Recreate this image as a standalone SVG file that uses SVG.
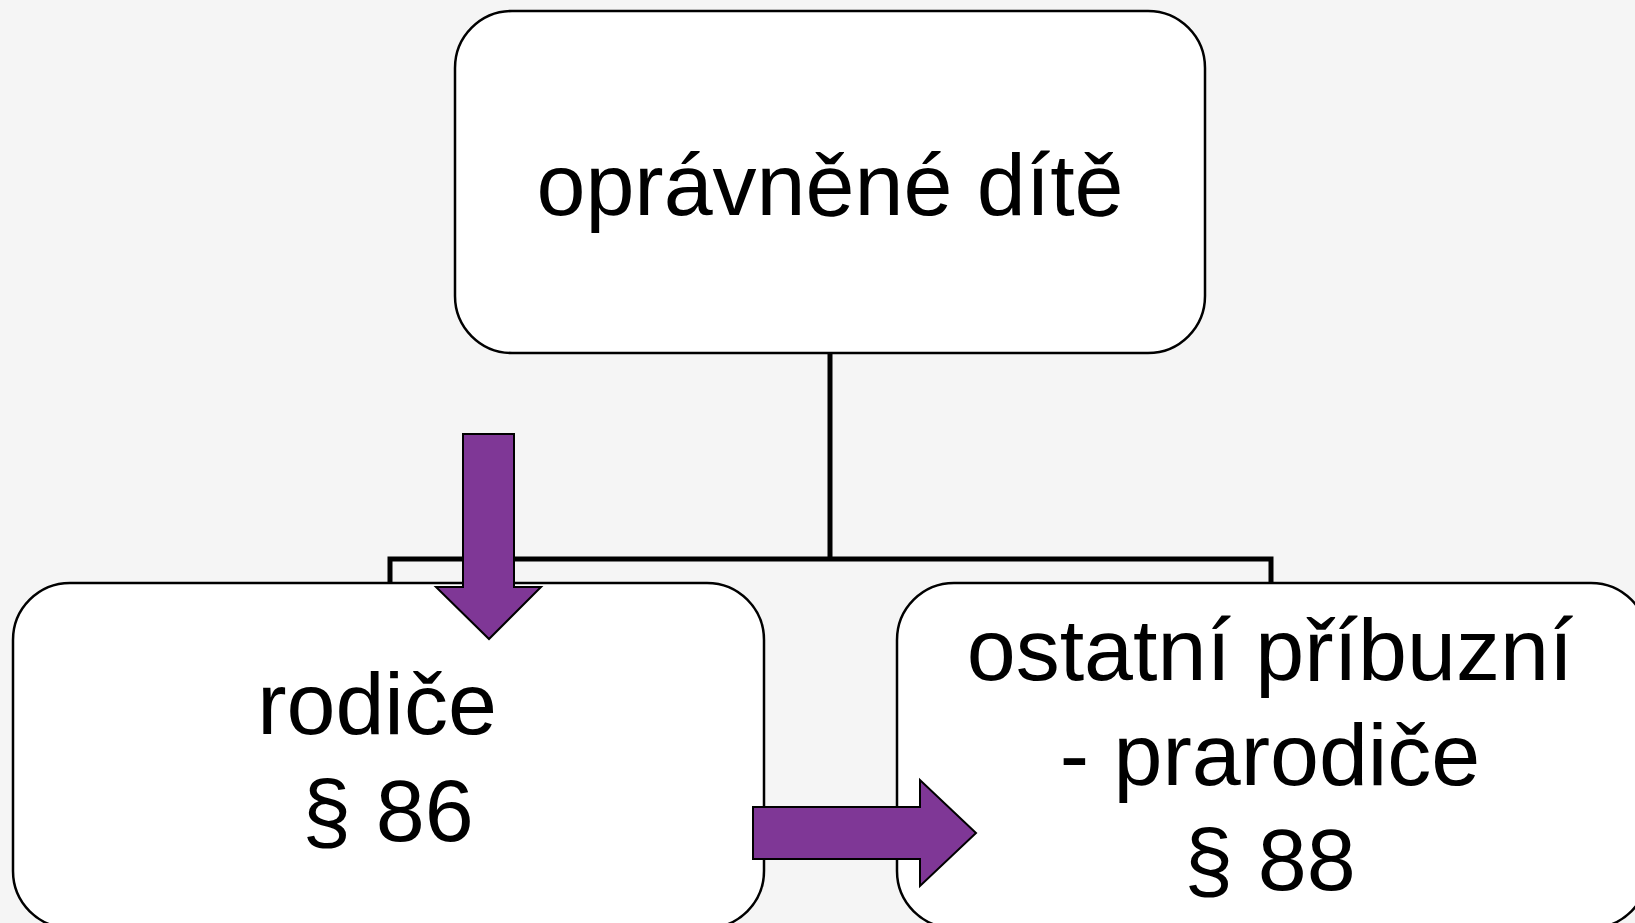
<svg xmlns="http://www.w3.org/2000/svg" width="1635" height="923" viewBox="0 0 1635 923">
<style>
.box{fill:#ffffff;stroke:#000000;stroke-width:2.5}
.conn{fill:none;stroke:#000000;stroke-width:5}
.arrow{fill:#7f3796;stroke:#000000;stroke-width:2}
.t{font-family:"Liberation Sans",Arial,sans-serif;font-size:88px;fill:#000000;text-anchor:middle}
</style>
<rect width="1635" height="923" fill="#f5f5f5"/>
<g id="connectors">
<path class="conn" d="M830 353 V559 M390 583 V559 H1271 V583"/>
</g>
<g id="node-opravnene-dite">
<rect class="box" x="455" y="11" width="750" height="342" rx="57" ry="57"/>
<text class="t" x="830" y="215">oprávněné dítě</text>
</g>
<g id="node-rodice">
<rect class="box" x="13" y="583" width="751" height="345" rx="57" ry="57"/>
<text class="t" x="377" y="734">rodiče</text>
<text class="t" x="388" y="841">§ 86</text>
</g>
<g id="node-ostatni">
<rect class="box" x="897" y="583" width="751" height="345" rx="57" ry="57"/>
<text class="t" x="1270" y="680">ostatní příbuzní</text>
<text class="t" x="1270" y="785">- prarodiče</text>
<text class="t" x="1270" y="890">§ 88</text>
</g>
<g id="arrows">
<polygon class="arrow" points="463,434 514,434 514,587 541,587 489,639 436,587 463,587"/>
<polygon class="arrow" points="753,807 920,807 920,780 976,833 920,886 920,859 753,859"/>
</g>
</svg>
